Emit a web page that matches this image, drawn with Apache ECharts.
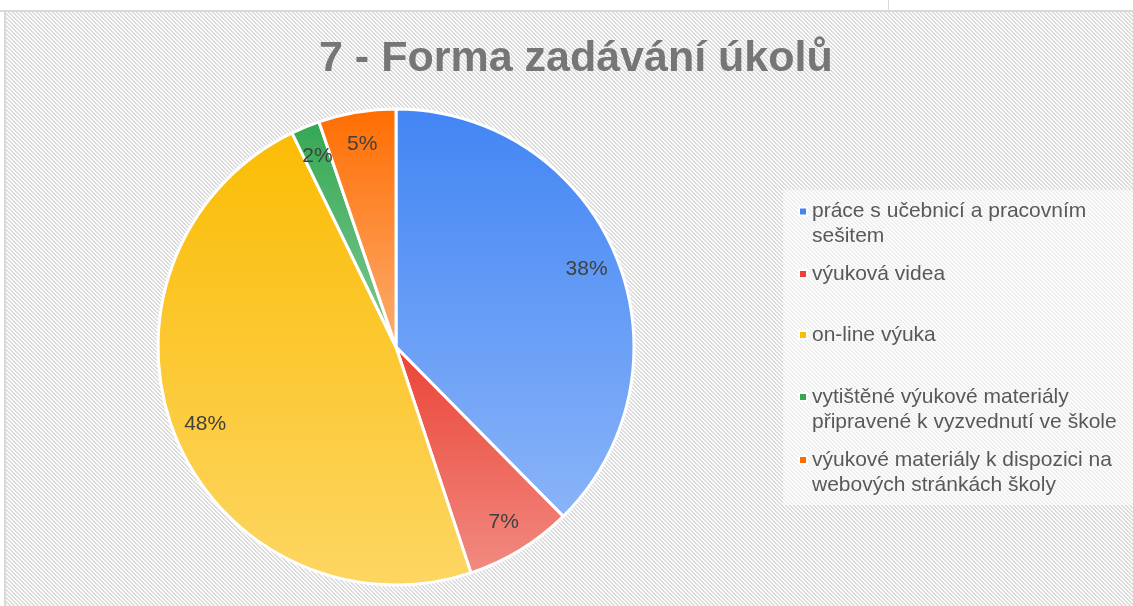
<!DOCTYPE html>
<html>
<head>
<meta charset="utf-8">
<script src="https://cdn.jsdelivr.net/npm/echarts@6/dist/echarts.min.js"></script>
<style>
html, body { margin: 0; padding: 0; background: #fff; }
#chart { width: 1133px; height: 606px; }
</style>
</head>
<body>
<div id="chart"></div>
<script>
// data
const chartTitle = '7 - Forma zadávání úkolů';
const categories = [
  'práce s učebnicí a pracovním sešitem',
  'výuková videa',
  'on-line výuka',
  'vytištěné výukové materiály připravené k vyzvednutí ve škole',
  'výukové materiály k dispozici na webových stránkách školy'
];
const legendLabels = [
  'práce s učebnicí a pracovním\nsešitem',
  'výuková videa',
  'on-line výuka',
  'vytištěné výukové materiály\npřipravené k vyzvednutí ve škole',
  'výukové materiály k dispozici na\nwebových stránkách školy'
];
const shares = [37.6, 7.3, 47.9, 1.95, 5.25];
const topColors = ['#4285f4', '#ea4335', '#fbbc04', '#34a853', '#ff6d01'];
const bottomColors = ['#8ab4f8', '#f28b82', '#fdd663', '#81c995', '#fcad70'];
const legendIconY = [211.5, 274, 335, 397, 460];

// diagonal hatch used by the chart area
function hatchTile() {
  const c = document.createElement('canvas');
  c.width = 4; c.height = 4;
  const ctx = c.getContext('2d');
  ctx.fillStyle = '#fbfbfb';
  ctx.fillRect(0, 0, 4, 4);
  ctx.fillStyle = '#dcdcdc';
  for (let y = 0; y < 4; y++) {
    for (let x = 0; x < 4; x++) {
      const d = ((x - y) % 4 + 4) % 4;
      if (d === 0 || d === 1) ctx.fillRect(x, y, 1, 1);
    }
  }
  return c;
}

function grad(i) {
  return {
    type: 'linear', x: 0, y: 0, x2: 0, y2: 1,
    colorStops: [
      { offset: 0, color: topColors[i] },
      { offset: 1, color: bottomColors[i] }
    ],
    global: false
  };
}

const pieData = categories.map((name, i) => ({
  name: name,
  value: shares[i],
  itemStyle: { color: grad(i) }
}));

const labelData = categories.map((name, i) => ({
  name: name,
  value: shares[i],
  itemStyle: { color: 'rgba(0,0,0,0)' }
}));

// one legend per entry so the icon sits on the first text line
const legends = categories.map((name, i) => {
  const twoLines = legendLabels[i].indexOf('\n') >= 0;
  return {
    orient: 'vertical',
    left: 798,
    top: legendIconY[i] - (twoLines ? 37.5 : 12.5),
    padding: 0,
    itemWidth: 8,
    itemHeight: 8,
    icon: 'rect',
    selectedMode: false,
    data: [{ name: name, itemStyle: { color: topColors[i] } }],
    formatter: function () { return twoLines ? ' \n' + legendLabels[i] : legendLabels[i]; },
    textStyle: {
      fontFamily: 'Liberation Sans, Arial, sans-serif',
      fontSize: 21,
      lineHeight: 25,
      color: '#595959'
    }
  };
});

const chart = echarts.init(document.getElementById('chart'));
chart.setOption({
  animation: false,
  backgroundColor: '#ffffff',
  graphic: [
    {
      type: 'rect', z: -10,
      shape: { x: 6, y: 12, width: 1127, height: 594 },
      style: { fill: { image: hatchTile(), repeat: 'repeat' } }
    },
    {
      type: 'rect', z: -9,
      shape: { x: 783, y: 190, width: 350, height: 315 },
      style: { fill: 'rgba(255,255,255,0.55)' }
    },
    {
      type: 'line', z: -8,
      shape: { x1: 0, y1: 11, x2: 1133, y2: 11 },
      style: { stroke: '#d9d9d9', lineWidth: 2 }
    },
    {
      type: 'line', z: -8,
      shape: { x1: 888.5, y1: 0, x2: 888.5, y2: 11 },
      style: { stroke: '#d9d9d9', lineWidth: 1 }
    },
    {
      type: 'line', z: -8,
      shape: { x1: 5, y1: 11, x2: 5, y2: 606 },
      style: { stroke: '#d9d9d9', lineWidth: 2 }
    }
  ],
  title: {
    text: chartTitle,
    left: 319,
    top: 38,
    padding: 0,
    textStyle: {
      fontFamily: 'Liberation Sans, Arial, sans-serif',
      fontSize: 43,
      fontWeight: 'bold',
      color: '#767676'
    }
  },
  legend: legends,
  series: [
    {
      name: 'Forma',
      type: 'pie',
      center: [396, 347],
      radius: [0, 238],
      startAngle: 90,
      clockwise: true,
      silent: true,
      label: { show: false },
      labelLine: { show: false },
      itemStyle: { borderColor: '#ffffff', borderWidth: 3 },
      data: pieData
    },
    {
      name: 'labels',
      type: 'pie',
      center: [396, 347],
      radius: [168, 238],
      startAngle: 90,
      clockwise: true,
      silent: true,
      z: 3,
      label: {
        show: true,
        position: 'inside',
        fontFamily: 'Liberation Sans, Arial, sans-serif',
        fontSize: 21,
        color: '#404040',
        formatter: function (p) { return Math.round(p.percent) + '%'; }
      },
      labelLine: { show: false },
      data: labelData
    }
  ]
});
</script>
</body>
</html>
